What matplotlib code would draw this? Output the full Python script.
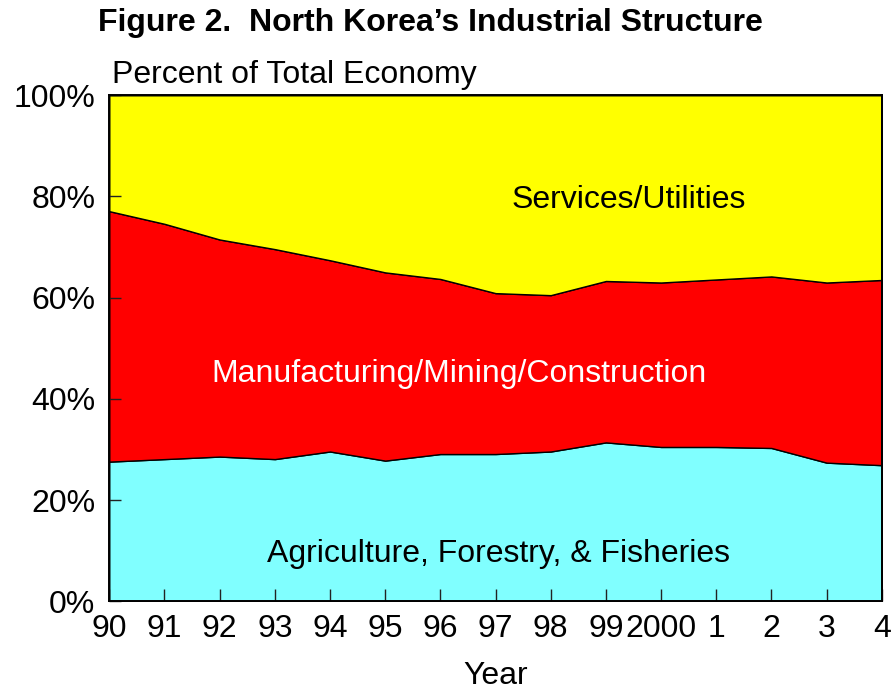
import numpy as np
import matplotlib.pyplot as plt

plt.rcParams['font.family'] = ['Liberation Sans', 'DejaVu Sans']

years = ['90', '91', '92', '93', '94', '95', '96', '97', '98', '99', '2000', '1', '2', '3', '4']
# shares in percent of total economy
agriculture = [27.6, 28.1, 28.6, 28.1, 29.6, 27.8, 29.1, 29.1, 29.6, 31.4, 30.5, 30.5, 30.3, 27.4, 26.9]
industry_top = [77.1, 74.6, 71.5, 69.6, 67.4, 65.0, 63.7, 60.9, 60.5, 63.3, 63.0, 63.6, 64.2, 63.0, 63.5]
manufacturing = [t - a for t, a in zip(industry_top, agriculture)]
services = [100 - t for t in industry_top]

x = np.arange(len(years))

fig = plt.figure(figsize=(8.93, 6.94), dpi=100)
ax = fig.add_axes([0.1224, 0.1336, 0.865, 0.7291])

ax.stackplot(x, agriculture, manufacturing, services,
             colors=['#80FFFF', '#FF0000', '#FFFF00'],
             edgecolor='black', linewidth=1)

ax.set_xlim(0, len(years) - 1)
ax.set_ylim(0, 100)
ax.set_xticks(x)
ax.set_xticklabels(years, fontsize=23)
ax.set_yticks(range(0, 101, 20))
ax.set_yticklabels([f'{v}%' for v in range(0, 101, 20)], fontsize=23)
ax.tick_params(axis='both', direction='in', length=8.5, width=1, color='#222222')
ax.tick_params(axis='x', pad=9.5)
ax.tick_params(axis='y', pad=10)
for s in ax.spines.values():
    s.set_linewidth(1.4)

ax.set_xlabel('Year', fontsize=23, labelpad=12)

ax.text(9.41, 79.4, 'Services/Utilities', fontsize=23, ha='center', va='center')
ax.text(6.34, 44.9, 'Manufacturing/Mining/Construction', fontsize=23, ha='center', va='center', color='white')
ax.text(7.05, 9.4, 'Agriculture, Forestry, & Fisheries', fontsize=23, ha='center', va='center')

fig.text(0.482, 0.967, 'Figure 2.  North Korea\u2019s Industrial Structure',
         fontsize=23, fontweight='bold', ha='center', va='center')
fig.text(0.125, 0.892, 'Percent of Total Economy', fontsize=23, ha='left', va='center')

fig.savefig('out.png', dpi=100)
